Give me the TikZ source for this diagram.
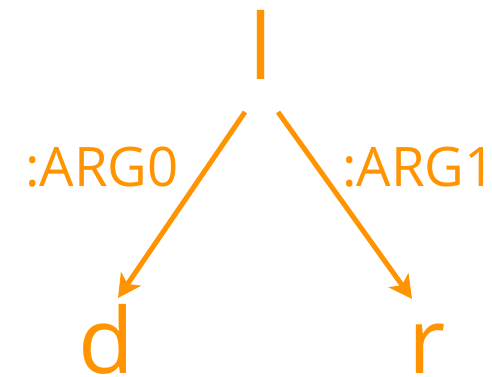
\documentclass[tikz,border=0pt]{standalone}
\usepackage{fontspec}
\setmainfont{Open Sans}
\usetikzlibrary{arrows.meta}
\definecolor{amrorange}{HTML}{FF9400}
\tikzset{
  var/.style={text=amrorange, font=\fontsize{91}{91}\selectfont, inner sep=0pt, anchor=base},
  rel/.style={text=amrorange, font=\fontsize{54.5}{54.5}\selectfont, inner sep=0pt, anchor=base west},
  edge/.style={draw=amrorange, line width=5pt, -{Stealth[length=23pt, width=24pt, inset=6pt]}}
}
\begin{document}
\begin{tikzpicture}[x=1pt,y=1pt]
\useasboundingbox (0,0) rectangle (492,376);
\node[var] (l) at (261,297) {l};
\node[var] (d) at (106,3) {d};
\node[var] (r) at (427,3) {r};
\node[rel] (a0) at (25,190) {:ARG0};
\node[rel] (a1) at (342,190) {:ARG1};
\coordinate (ls) at (245,264);
\coordinate (rs) at (278,264);
\coordinate (dt) at (118,78);
\coordinate (rt) at (412,77);
\draw[edge] (ls) -- (dt);
\draw[edge] (rs) -- (rt);
\end{tikzpicture}
\end{document}
